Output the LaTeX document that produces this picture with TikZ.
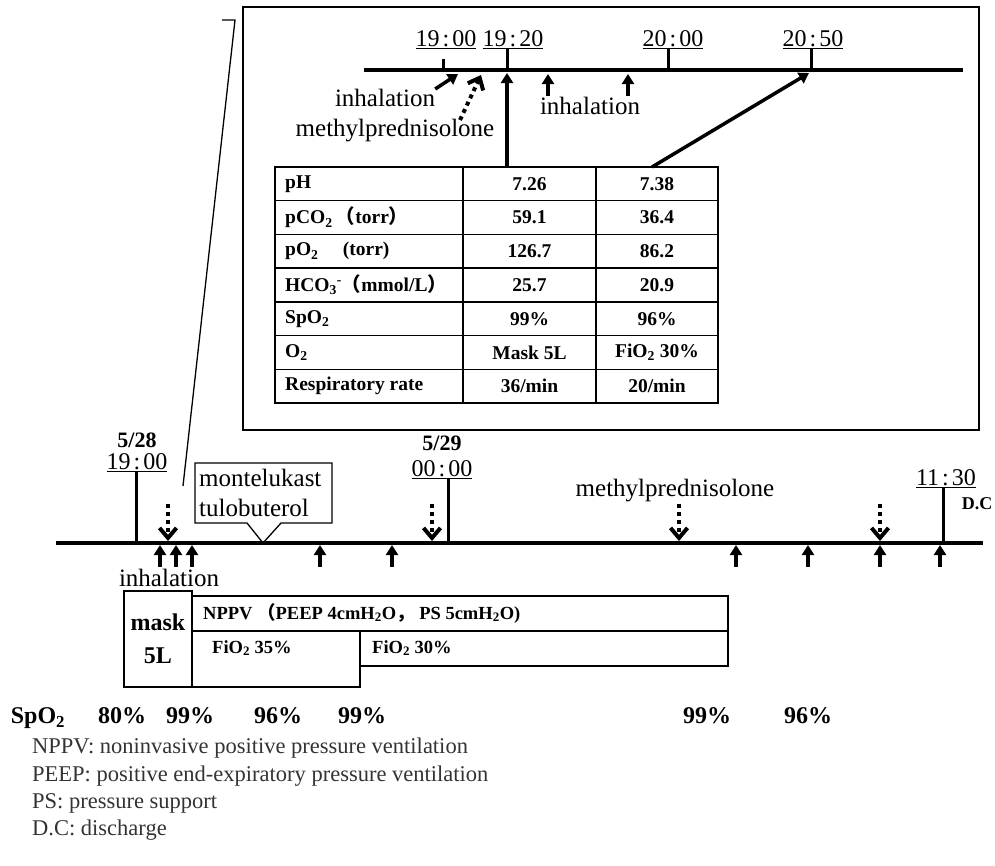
\documentclass[tikz,border=0pt]{standalone}
\usepackage{fontspec}
\setmainfont{Liberation Serif}
\newfontfamily\cjk{Noto Sans CJK JP}
\usetikzlibrary{arrows.meta, positioning}

\newcommand{\clocklbl}[2]{\underline{#1\kern3pt:\kern3pt#2}}

\begin{document}
\begin{tikzpicture}[
    x=1pt, y=-1pt,
    tline/.style={line width=4pt},
    tickmark/.style={line width=3pt},
    upar/.style={-{Triangle[width=12pt,length=10pt]}, line width=3.5pt},
    dosear/.style={-{Straight Barb[width=17pt,length=10pt]}, line width=4pt, dash pattern=on 4pt off 4pt},
    thinbox/.style={draw, line width=1.3pt},
    txt/.style={font=\fontsize{25}{30}\selectfont, inner sep=0pt},
    clock/.style={font=\fontsize{24}{26}\selectfont, inner sep=0pt, anchor=south},
    datelbl/.style={font=\fontsize{22}{24}\selectfont\bfseries, inner sep=0pt},
    cell/.style={font=\fontsize{19.5}{21}\selectfont\bfseries, inner sep=0pt},
    boxtxt/.style={font=\fontsize{18.5}{21}\selectfont\bfseries, inner sep=0pt, anchor=west},
    spo/.style={font=\fontsize{24}{26}\selectfont\bfseries, inner sep=0pt},
    legend/.style={font=\fontsize{22.5}{24}\selectfont, text=black!80, inner sep=0pt, anchor=west}
  ]
  \useasboundingbox (0,0) rectangle (995,865);

  % --- inset: blood gas detail ---
  \node[thinbox, minimum width=736pt, minimum height=423pt, inner sep=0pt] (inset) at (611,218.5) {};
  \coordinate (lead) at (183,486);
  \draw[line width=1.3pt] (222,20) -- (235,20) -- (lead);

  \coordinate (iL) at (364,70);
  \coordinate (iR) at (963,70);
  \draw[tline] (iL) -- (iR);

  \node[clock] (k1900) at (446,49) {\clocklbl{19}{00}};
  \node[clock] (k1920) at (513,49) {\clocklbl{19}{20}};
  \node[clock] (k2000) at (673,49) {\clocklbl{20}{00}};
  \node[clock] (k2050) at (813,49) {\clocklbl{20}{50}};
  \draw[tickmark] (443,59) -- (443,70);
  \foreach \x in {507,668,811}
    \draw[tickmark] (\x,49) -- (\x,70);

  \node[txt] (inhA) at (385,98) {inhalation};
  \node[txt] (mpA) at (395,131) {methylprednisolone};
  \node[txt] (inhB) at (590,106) {inhalation};
  \draw[upar] (inhA.north east) -- (458,74);
  \draw[dosear] (460,120) -- (481,75);
  \draw[upar] (548,96) -- (548,74);
  \draw[upar] (628,96) -- (628,74);

  % table
  \draw[line width=1.5pt] (275,167) rectangle (718,403);
  \foreach \k in {1,...,6}
    \draw[line width=1.5pt] (275,167+33.714*\k) -- (718,167+33.714*\k);
  \draw[line width=1.5pt] (463,167) -- (463,403);
  \draw[line width=1.5pt] (596,167) -- (596,403);
  \foreach \a/\b/\c [count=\i] in {
      {pH}/{7.26}/{7.38},
      {pCO\textsubscript{2}\,{\cjk （}torr{\cjk ）}}/{59.1}/{36.4},
      {pO\textsubscript{2}\quad\ (torr)}/{126.7}/{86.2},
      {HCO\textsubscript{3}\textsuperscript{-}{\cjk （}mmol/L{\cjk ）}}/{25.7}/{20.9},
      {SpO\textsubscript{2}}/{99\%}/{96\%},
      {O\textsubscript{2}}/{Mask 5L}/{FiO\textsubscript{2} 30\%},
      {Respiratory rate}/{36/min}/{20/min}} {
    \node[cell, anchor=west] (pa\i) at (285,150.143+33.714*\i) {\a};
    \node[cell] (pb\i) at (529.5,150.143+33.714*\i) {\b};
    \node[cell] (pc\i) at (657,150.143+33.714*\i) {\c};
  }
  \coordinate (g1) at (507,167);
  \coordinate (g2) at (652,167);
  \draw[upar] (g1) -- (507,73);
  \draw[upar] (g2) -- (809,73);

  % --- main timeline ---
  \coordinate (mL) at (56,543);
  \coordinate (mR) at (983,543);
  \draw[tline] (mL) -- (mR);

  \node[clock] (c1900) at (137,472) {\clocklbl{19}{00}};
  \node[datelbl, above=5pt of c1900] (d528) {5/28};
  \draw[tickmark] (136,472) -- (136,543);

  \node[clock] (c0000) at (442,479) {\clocklbl{00}{00}};
  \node[datelbl, above=9pt of c0000] (d529) {5/29};
  \draw[tickmark] (448,479) -- (448,543);

  \node[clock] (c1130) at (946,488) {\clocklbl{11}{30}};
  \draw[tickmark] (943,488) -- (943,543);
  \node[font=\fontsize{18}{20}\selectfont\bfseries, inner sep=0pt] (dc) at (977,504) {D.C};

  % drug boxes and labels
  \draw[thinbox] (195,463) -- (332,463) -- (332,523) -- (281,523) -- (263,543)
    -- (247,523) -- (195,523) -- cycle;
  \node[txt, anchor=west] (mont) at (199,478) {montelukast};
  \node[txt, anchor=west] (tulo) at (199,508) {tulobuterol};
  \node[txt] (mpB) at (675,491) {methylprednisolone};

  \foreach \x in {168,432,679,880}
    \draw[dosear] (\x,504) -- (\x,541);
  \foreach \x in {160,176,192,320,392,736,808,880,940}
    \draw[upar] (\x,567) -- (\x,545);
  \node[txt] (inhC) at (169,578) {inhalation};

  % --- ventilation ---
  \node[thinbox, minimum width=68pt, minimum height=96pt, inner sep=0pt, align=center,
    font=\fontsize{24}{33}\selectfont\bfseries] (mask) at (158,639) {mask\\5L};
  \draw[thinbox] (192,596) rectangle (728,631);
  \draw[thinbox] (192,631) rectangle (360,687);
  \draw[thinbox] (360,631) rectangle (728,666);
  \node[boxtxt] (nppv) at (203,613) {NPPV\ {\cjk （}PEEP 4cmH\textsubscript{2}O{\cjk ，}\ PS 5cmH\textsubscript{2}O)};
  \node[boxtxt] (fio35) at (212,648) {FiO\textsubscript{2} 35\%};
  \node[boxtxt] (fio30) at (372,648) {FiO\textsubscript{2} 30\%};

  % SpO2 row
  \node[spo] (spo) at (38,718) {SpO\textsubscript{2}};
  \foreach \x/\v [count=\i] in {122/80,190/99,278/96,362/99,707/99,808/96}
    \node[spo] (sv\i) at (\x,716) {\v\%};

  % legend
  \node[legend] (lg1) at (32,748) {NPPV: noninvasive positive pressure ventilation};
  \node[legend] (lg2) at (32,776) {PEEP: positive end-expiratory pressure ventilation};
  \node[legend] (lg3) at (32,803) {PS: pressure support};
  \node[legend] (lg4) at (32,830) {D.C: discharge};
\end{tikzpicture}
\end{document}
